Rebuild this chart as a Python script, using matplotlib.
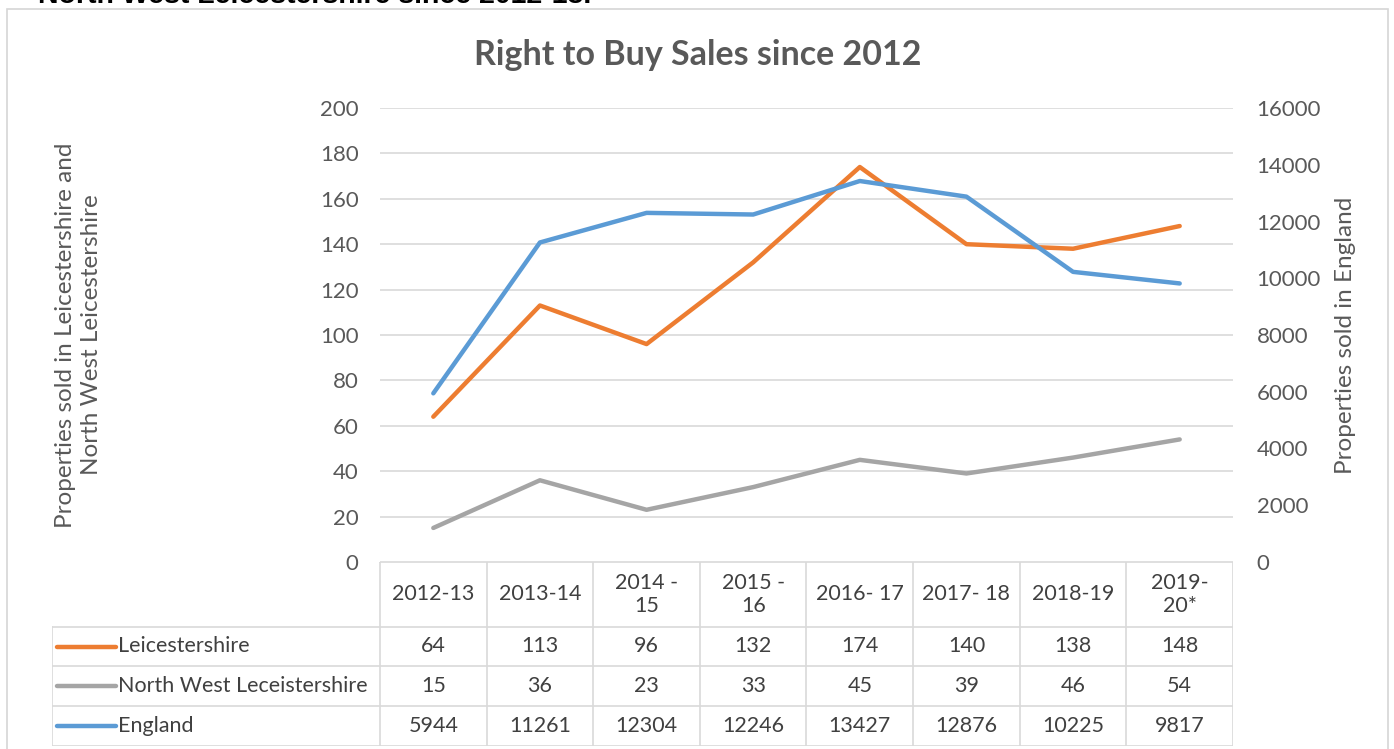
import numpy as np
import matplotlib.pyplot as plt
from matplotlib.patches import Rectangle

plt.rcParams['font.family'] = ['Lato', 'DejaVu Sans']

years = ["2012-13", "2013-14", "2014 -\n15", "2015 -\n16", "2016- 17",
         "2017- 18", "2018-19", "2019-\n20*"]
leics = [64, 113, 96, 132, 174, 140, 138, 148]
nwleics = [15, 36, 23, 33, 45, 39, 46, 54]
england = [5944, 11261, 12304, 12246, 13427, 12876, 10225, 9817]

series_names = ["Leicestershire", "North West Leceistershire", "England"]
series_vals = [leics, nwleics, england]
colors = ["#ED7D31", "#A5A5A5", "#5B9BD5"]

W, H = 1394, 749
txt = "#595959"
grid = "#D9D9D9"

fig = plt.figure(figsize=(W / 100, H / 100), dpi=100)

def px(x0, y0, x1, y1):
    # pixel box -> figure fraction [left, bottom, width, height]
    return [x0 / W, 1 - y1 / H, (x1 - x0) / W, (y1 - y0) / H]

# chart border and the caption above it (cut off by the page edge)
fig.patches.append(Rectangle((7 / W, -0.1), (1388 - 7) / W, 1.1 - 9 / H,
                             transform=fig.transFigure, fill=False,
                             edgecolor="#D6D6D6", linewidth=1.2))
fig.text(38 / W, 1 - 3 / H, "North West Leicestershire since 2012-13.",
         fontsize=20.5, fontweight="bold", color="black", va="baseline",
         family=["Liberation Sans", "DejaVu Sans"])

fig.text(698 / W, 1 - 55 / H, "Right to Buy Sales since 2012", fontsize=24.5,
         fontweight="bold", color=txt, ha="center", va="center")

x0, x1, ytop, ybot = 380, 1233, 108, 562
ax = fig.add_axes(px(x0, ytop, x1, ybot))
x = np.arange(len(years))
ax.set_xlim(-0.5, len(years) - 0.5)
ax.set_ylim(0, 200)
ax.set_yticks(np.arange(0, 201, 20))
ax.yaxis.grid(True, color=grid, linewidth=1.2)
ax.set_axisbelow(True)
ax.set_xticks([])
for s in ax.spines.values():
    s.set_visible(False)
ax.tick_params(axis="y", length=0, pad=15.5, labelsize=16, labelcolor=txt)
ax.set_ylabel("Properties sold in Leicestershire and\nNorth West Leicestershire",
              fontsize=17.5, color=txt, linespacing=1.3)
ax.yaxis.set_label_coords((102 - x0) / (x1 - x0), 0.5)

ax2 = ax.twinx()
ax2.set_ylim(0, 16000)
ax2.set_yticks(np.arange(0, 16001, 2000))
for s in ax2.spines.values():
    s.set_visible(False)
ax2.tick_params(axis="y", length=0, pad=17, labelsize=16, labelcolor=txt)
ax2.set_ylabel("Properties sold in England", fontsize=17.5, color=txt)
ax2.yaxis.set_label_coords((1335 - x0) / (x1 - x0), 0.5)

ax.plot(x, leics, color=colors[0], linewidth=3.2, solid_capstyle="round", zorder=3)
ax.plot(x, nwleics, color=colors[1], linewidth=3.2, solid_capstyle="round", zorder=3)
ax2.plot(x, england, color=colors[2], linewidth=3.2, solid_capstyle="round", zorder=3)

# data table below the plot, sharing the category x scale
colw = (x1 - x0) / len(years)
tl = 52
tab = fig.add_axes(px(tl, ybot, x1, 746))
left = -0.5 - (x0 - tl) / colw
tab.set_xlim(left, len(years) - 0.5)
tab.set_ylim(746 - ybot, 0)
tab.axis("off")
rows = [0, 65, 104, 144, 184]
lw = 1.2
for i in range(len(years) + 1):
    tab.plot([i - 0.5, i - 0.5], [rows[0], rows[-1]], color=grid, lw=lw)
tab.plot([left, left], [rows[1], rows[-1]], color=grid, lw=lw)
tab.plot([-0.5, len(years) - 0.5], [rows[0], rows[0]], color=grid, lw=lw)
for r in rows[1:]:
    tab.plot([left, len(years) - 0.5], [r, r], color=grid, lw=lw)

for i, yl in enumerate(years):
    tab.text(i, (rows[0] + rows[1]) / 2, yl, ha="center", va="center",
             fontsize=15.5, color="#404040", linespacing=1.15)
for k, (name, vals, c) in enumerate(zip(series_names, series_vals, colors)):
    yc = (rows[k + 1] + rows[k + 2]) / 2
    tab.plot([left + 5 / colw, left + 64 / colw], [yc, yc], color=c, lw=3.2,
             solid_capstyle="round")
    tab.text(left + 66 / colw, yc, name, ha="left", va="center",
             fontsize=15.5, color="#404040")
    for i, v in enumerate(vals):
        tab.text(i, yc, str(v), ha="center", va="center", fontsize=15.5,
                 color="#404040")

fig.savefig("out.png", dpi=100)
